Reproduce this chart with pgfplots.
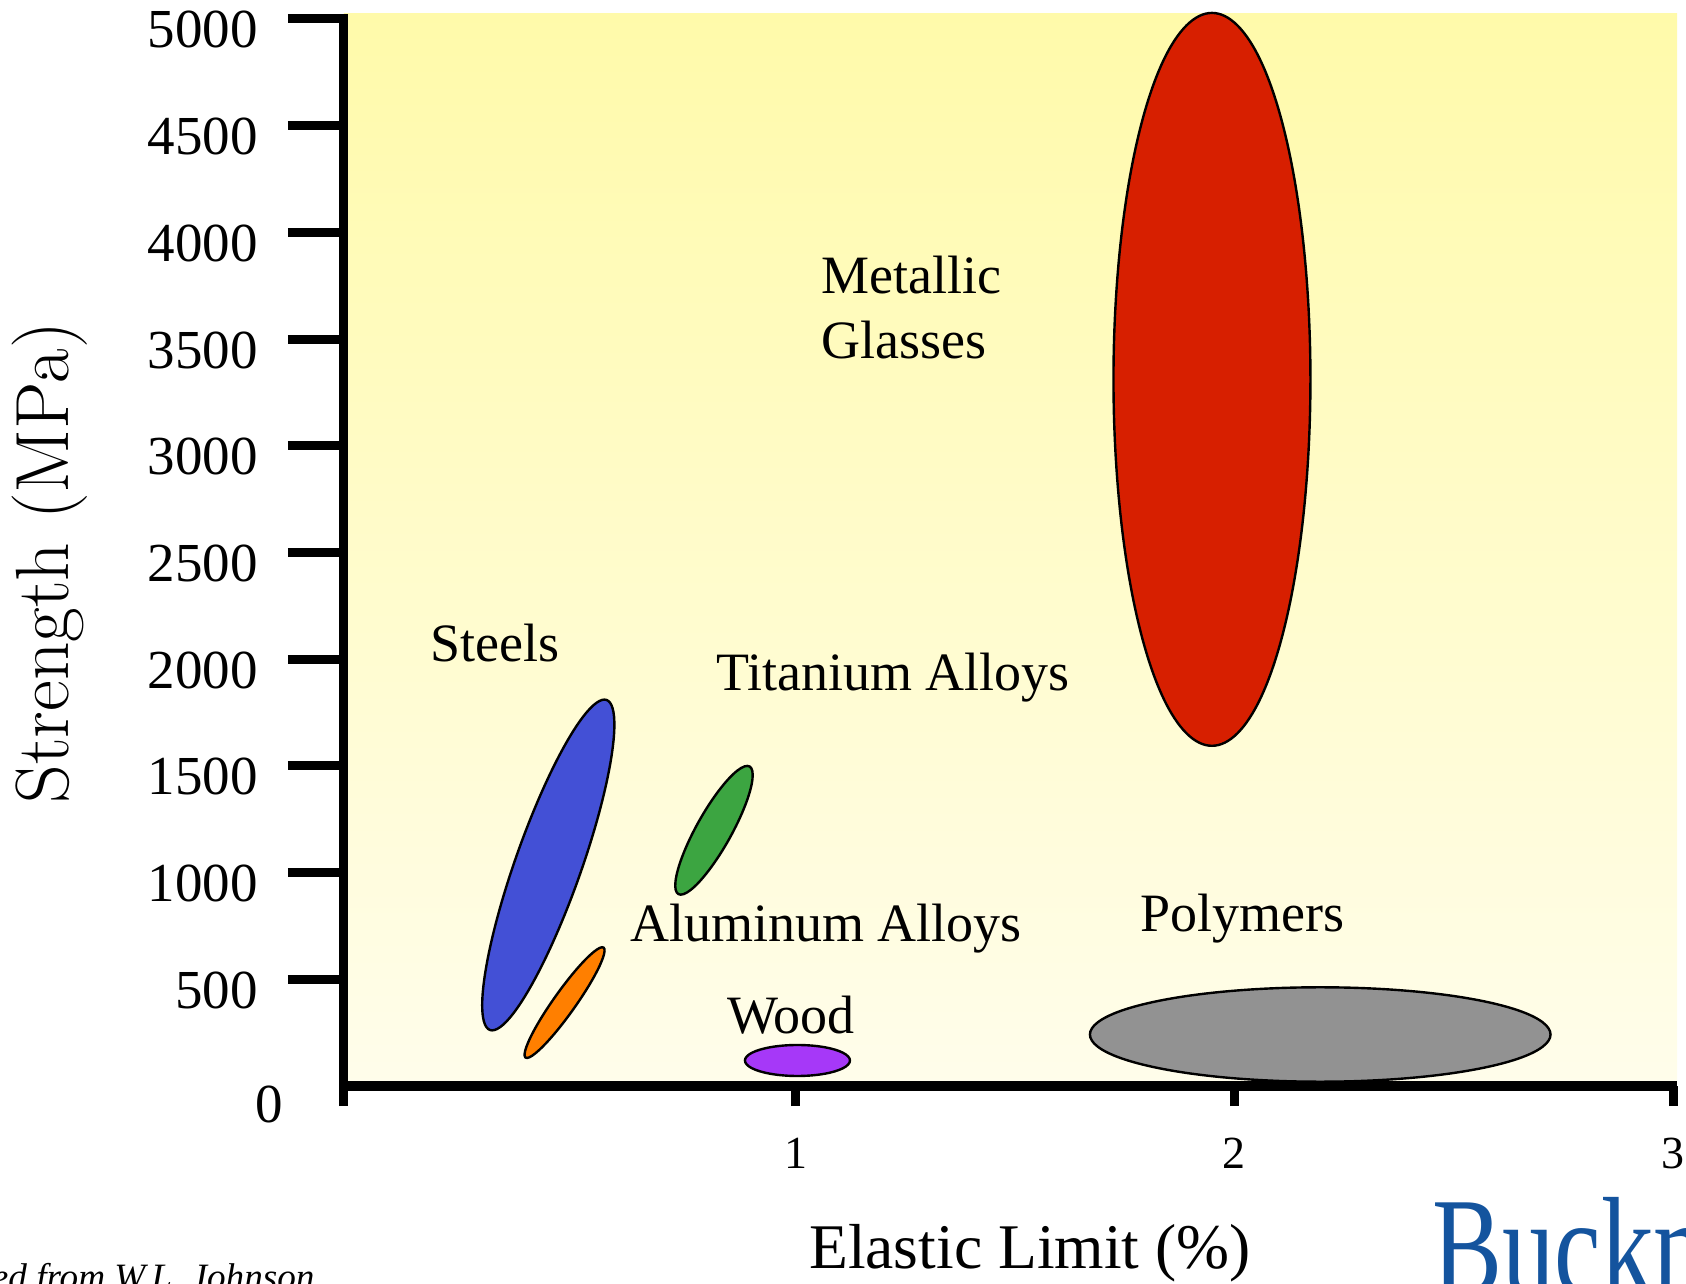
\documentclass[border=0pt]{standalone}
\usepackage{fontspec}
\setmainfont{Liberation Serif}
\usepackage{pgfplots}
\pgfplotsset{compat=1.18}

\definecolor{bgtop}{HTML}{FFFAAA}
\definecolor{bgbot}{HTML}{FFFDEB}
\definecolor{mglass}{HTML}{D71F00}
\definecolor{steel}{HTML}{4350D6}
\definecolor{titan}{HTML}{3CA541}
\definecolor{alum}{HTML}{FF7F00}
\definecolor{wood}{HTML}{A638F8}
\definecolor{poly}{HTML}{929292}
\definecolor{bucknell}{RGB}{20,84,158}

\newcommand\lab{\fontsize{27}{32}\selectfont}

\pgfplotsset{
  region/.style={draw=black, line width=1.2pt, fill=#1, smooth cycle, tension=0.63},
  frame/.style={
    at={(0,0)}, anchor=south west,
    scale only axis, width=666.5pt, height=536pt,
    xmin=-0.0296, xmax=3.0091, ymin=0, ymax=5023,
    clip=false,
    axis line style={line width=4.5pt, -},
    tick align=outside,
    scaled ticks=false,
    /pgf/number format/assume math mode=true,
    /pgf/number format/1000 sep={},
  },
}

\begin{document}
\begin{tikzpicture}
% strength axis, background and material regions
\begin{axis}[
  frame,
  axis on top,
  axis x line*=bottom, axis y line*=left,
  axis background/.style={top color=bgtop, bottom color=bgbot},
  major tick length=28pt,
  xtick=\empty,
  ytick={500,1000,...,5000},
  ytick style={line width=4.5pt, black},
  yticklabel style={font=\fontsize{27.5}{33}\selectfont, anchor=east, inner sep=0pt, xshift=-15pt, yshift=-5.5pt},
  extra y ticks={0},
  extra y tick style={ytick style={draw=none}, yticklabel style={xshift=12.5pt, yshift=-3.5pt}},
  ylabel={Strength (MPa)},
  ylabel style={at={(rel axis cs:-0.2206,0.488)}, anchor=center, inner sep=0pt,
    font={\fontfamily{lmr}\fontsize{37.7}{44}\selectfont}},
]
% Metallic glasses
\addplot[region=mglass] coordinates {
  (2.1735,3311) (2.1434,4169.5) (2.0613,4798) (1.949,5028)
  (1.8367,4798) (1.7546,4169.5) (1.7245,3311) (1.7546,2452.5)
  (1.8367,1824) (1.949,1594) (2.0613,1824) (2.1434,2452.5)};
% Steels
\addplot[region=steel] coordinates {
  (0.5690,1808.8) (0.5867,1679.5) (0.5640,1377.6) (0.5070,984.1)
  (0.4310,604.4) (0.3565,340.3) (0.3032,262.4) (0.2855,391.8)
  (0.3082,693.6) (0.3652,1087.1) (0.4412,1466.8) (0.5157,1730.9)};
% Titanium alloys
\addplot[region=titan] coordinates {
  (0.8949,1497.2) (0.9015,1437.1) (0.8846,1313.1) (0.8487,1158.2)
  (0.8034,1014.1) (0.7611,919.3) (0.7327,899.2) (0.7261,959.3)
  (0.7430,1083.3) (0.7789,1238.2) (0.8242,1382.3) (0.8666,1477.1)};
% Aluminum alloys
\addplot[region=alum] coordinates {
  (0.5621,648.5) (0.5604,599.0) (0.5354,493.8) (0.4936,360.9)
  (0.4464,236.0) (0.4064,152.6) (0.3843,133.1) (0.3860,182.5)
  (0.4110,287.8) (0.4528,420.7) (0.5000,545.6) (0.5400,628.9)};
% Wood
\addplot[region=wood] coordinates {
  (1.1238,119.5) (1.1078,155.8) (1.0640,182.4) (1.0041,192.1)
  (0.9443,182.4) (0.9004,155.8) (0.8844,119.5) (0.9004,83.2)
  (0.9443,56.6) (1.0041,46.9) (1.0640,56.6) (1.1078,83.2)};
% Polymers
\addplot[region=poly] coordinates {
  (2.7208,241.3) (2.6505,351.9) (2.4583,432.9) (2.1958,462.5)
  (1.9333,432.9) (1.7411,351.9) (1.6708,241.3) (1.7411,130.7)
  (1.9333,49.7) (2.1958,20.1) (2.4583,49.7) (2.6505,130.7)};

\node[anchor=base west, inner sep=0pt, font=\lab] at (axis cs:1.0588,3711) {Metallic};
\node[anchor=base west, inner sep=0pt, font=\lab] at (axis cs:1.0588,3407) {Glasses};
\node[anchor=base west, inner sep=0pt, font=\lab] at (axis cs:0.1664,1987) {Steels};
\node[anchor=base west, inner sep=0pt, font=\lab] at (axis cs:0.818,1851) {Titanium Alloys};
\node[anchor=base west, inner sep=0pt, font=\lab] at (axis cs:0.622,679) {Aluminum Alloys};
\node[anchor=base west, inner sep=0pt, font=\lab] at (axis cs:0.843,248) {Wood};
\node[anchor=base west, inner sep=0pt, font=\lab] at (axis cs:1.785,726) {Polymers};
\end{axis}

% elastic limit axis: short ticks below the baseline
\begin{axis}[
  frame,
  axis x line*=bottom, axis y line=none,
  major tick length=10pt,
  ytick=\empty,
  xtick={-0.0296,1,2,3},
  xticklabels={,1,2,3},
  xtick style={line width=4.5pt, black},
  xticklabel style={font=\fontsize{23}{28}\selectfont, anchor=north, inner sep=0pt, yshift=-15.75pt},
  xlabel={Elastic Limit (\%)},
  xlabel style={at={(rel axis cs:0.5146,-0.16978)}, anchor=base, inner sep=0pt,
    font=\fontsize{31.8}{38}\selectfont},
]
\end{axis}

\node[anchor=base east, inner sep=0pt, font=\fontsize{18.6}{22}\selectfont\itshape]
  at (-14.5pt,-101.8pt) {Adapted from W.L. Johnson};
\node[anchor=base west, inner sep=0pt, text=bucknell, font=\fontsize{70}{80}\selectfont, xscale=0.75]
  at (544pt,-104.35pt) {Bucknell};

\pgfresetboundingbox
\path[use as bounding box] (-172pt,-99pt) rectangle (671pt,543pt);
\end{tikzpicture}
\end{document}
